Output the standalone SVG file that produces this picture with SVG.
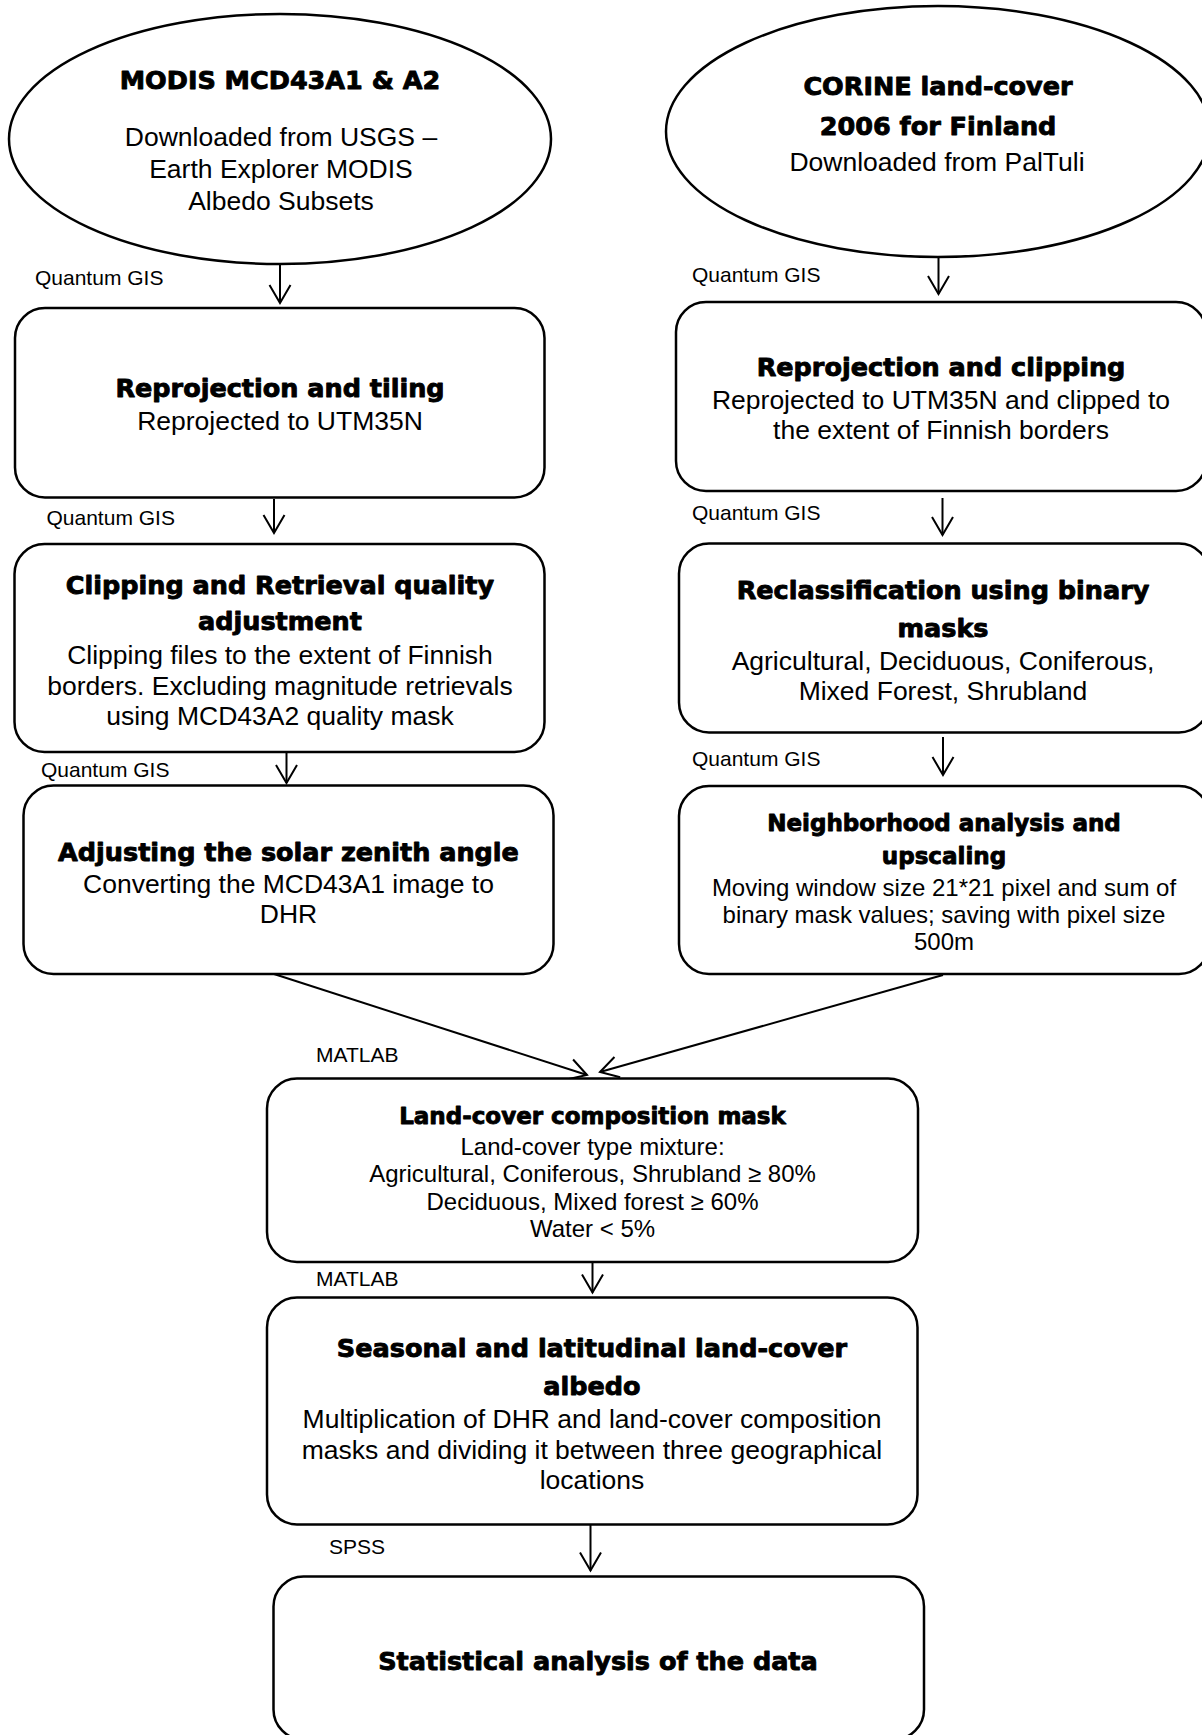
<svg xmlns="http://www.w3.org/2000/svg" width="1202" height="1735" viewBox="0 0 1202 1735">
<style>
.shape{fill:#fff;stroke:#000;stroke-width:2.5}
.t{font-family:"DejaVu Sans",sans-serif;font-weight:bold;font-size:25.5px;text-anchor:middle;fill:#000;stroke:#000;stroke-width:0.9;stroke-linejoin:round}
.ts{font-size:23px}
.b{font-family:"Liberation Sans",Arial,sans-serif;font-size:26.5px;text-anchor:middle;fill:#000}
.bs{font-size:24px}
.lbl{font-family:"Liberation Sans",Arial,sans-serif;font-size:21px;fill:#000}
.conn{stroke:#000;stroke-width:2;fill:none;marker-end:url(#arr)}
</style>
<defs>
<marker id="arr" markerUnits="userSpaceOnUse" markerWidth="30" markerHeight="30" viewBox="-22 -15 26 30" refX="0" refY="0" orient="auto" overflow="visible">
<path d="M-18,-10.5 L0,0 L-18,10.5" fill="none" stroke="#000" stroke-width="2"/>
</marker>
</defs>
<rect width="1202" height="1735" fill="#fff"/>

<g id="connectors">
<line class="conn" x1="280" y1="264" x2="280" y2="303"/>
<line class="conn" x1="274" y1="499" x2="274" y2="533"/>
<line class="conn" x1="286.5" y1="752" x2="286.5" y2="783"/>
<line class="conn" x1="938.5" y1="257" x2="938.5" y2="294"/>
<line class="conn" x1="942.5" y1="498" x2="942.5" y2="535"/>
<line class="conn" x1="943" y1="737" x2="943" y2="775"/>
<line class="conn" x1="274" y1="974" x2="587" y2="1075"/>
<line class="conn" x1="943" y1="975" x2="600" y2="1072"/>
<line class="conn" x1="592.5" y1="1262" x2="592.5" y2="1292.5"/>
<line class="conn" x1="590.5" y1="1525" x2="590.5" y2="1570.5"/>
<text class="lbl" x="35" y="285">Quantum GIS</text>
<text class="lbl" x="46.5" y="525">Quantum GIS</text>
<text class="lbl" x="41" y="777">Quantum GIS</text>
<text class="lbl" x="692" y="282">Quantum GIS</text>
<text class="lbl" x="692" y="520">Quantum GIS</text>
<text class="lbl" x="692" y="766">Quantum GIS</text>
<text class="lbl" x="316" y="1062">MATLAB</text>
<text class="lbl" x="316" y="1286">MATLAB</text>
<text class="lbl" x="329" y="1554">SPSS</text>
</g>

<g id="modis">
<ellipse class="shape" cx="280" cy="139" rx="271" ry="125"/>
<text class="t" x="280" y="89">MODIS MCD43A1 &amp; A2</text>
<text class="b" x="281" y="146">Downloaded from USGS –</text>
<text class="b" x="281" y="178">Earth Explorer MODIS</text>
<text class="b" x="281" y="210">Albedo Subsets</text>
</g>

<g id="corine">
<ellipse class="shape" cx="938" cy="131.5" rx="272" ry="125.5"/>
<text class="t" x="938" y="95">CORINE land-cover</text>
<text class="t" x="938" y="135">2006 for Finland</text>
<text class="b" x="937" y="171">Downloaded from PalTuli</text>
</g>

<g id="reproj-tiling">
<rect class="shape" x="15" y="308" width="529.5" height="189.5" rx="30"/>
<text class="t" x="280" y="397">Reprojection and tiling</text>
<text class="b" x="280" y="430">Reprojected to UTM35N</text>
</g>

<g id="clipping-quality">
<rect class="shape" x="14.5" y="544" width="530" height="208" rx="30"/>
<text class="t" x="280" y="594">Clipping and Retrieval quality</text>
<text class="t" x="280" y="630">adjustment</text>
<text class="b" x="280" y="664">Clipping files to the extent of Finnish</text>
<text class="b" x="280" y="694.5">borders. Excluding magnitude retrievals</text>
<text class="b" x="280" y="725">using MCD43A2 quality mask</text>
</g>

<g id="solar-zenith">
<rect class="shape" x="23.5" y="785.5" width="530" height="188.5" rx="30"/>
<text class="t" x="288.5" y="861">Adjusting the solar zenith angle</text>
<text class="b" x="288.5" y="893">Converting the MCD43A1 image to</text>
<text class="b" x="288.5" y="923">DHR</text>
</g>

<g id="reproj-clipping">
<rect class="shape" x="676" y="302" width="530" height="189" rx="30"/>
<text class="t" x="941" y="376">Reprojection and clipping</text>
<text class="b" x="941" y="409">Reprojected to UTM35N and clipped to</text>
<text class="b" x="941" y="439">the extent of Finnish borders</text>
</g>

<g id="reclassification">
<rect class="shape" x="679" y="543.5" width="530" height="189" rx="30"/>
<text class="t" x="943" y="599">Reclassification using binary</text>
<text class="t" x="943" y="637">masks</text>
<text class="b" x="943" y="670">Agricultural, Deciduous, Coniferous,</text>
<text class="b" x="943" y="700">Mixed Forest, Shrubland</text>
</g>

<g id="neighborhood">
<rect class="shape" x="679" y="786" width="530" height="188" rx="30"/>
<text class="t ts" x="944" y="831">Neighborhood analysis and</text>
<text class="t ts" x="944" y="864">upscaling</text>
<text class="b bs" x="944" y="896">Moving window size 21*21 pixel and sum of</text>
<text class="b bs" x="944" y="923">binary mask values; saving with pixel size</text>
<text class="b bs" x="944" y="950">500m</text>
</g>

<g id="composition-mask">
<rect class="shape" x="267" y="1078.5" width="651" height="183.5" rx="30"/>
<text class="t ts" x="592.5" y="1124">Land-cover composition mask</text>
<text class="b bs" x="592.5" y="1155">Land-cover type mixture:</text>
<text class="b bs" x="592.5" y="1182">Agricultural, Coniferous, Shrubland ≥ 80%</text>
<text class="b bs" x="592.5" y="1209.5">Deciduous, Mixed forest ≥ 60%</text>
<text class="b bs" x="592.5" y="1237">Water &lt; 5%</text>
</g>

<g id="seasonal-albedo">
<rect class="shape" x="267" y="1297.5" width="650.5" height="227" rx="30"/>
<text class="t" x="592" y="1357">Seasonal and latitudinal land-cover</text>
<text class="t" x="592" y="1395">albedo</text>
<text class="b" x="592" y="1428">Multiplication of DHR and land-cover composition</text>
<text class="b" x="592" y="1458.5">masks and dividing it between three geographical</text>
<text class="b" x="592" y="1489">locations</text>
</g>

<g id="statistics">
<rect class="shape" x="273.5" y="1576.5" width="650.5" height="163" rx="30"/>
<text class="t" x="598" y="1670">Statistical analysis of the data</text>
</g>
</svg>
